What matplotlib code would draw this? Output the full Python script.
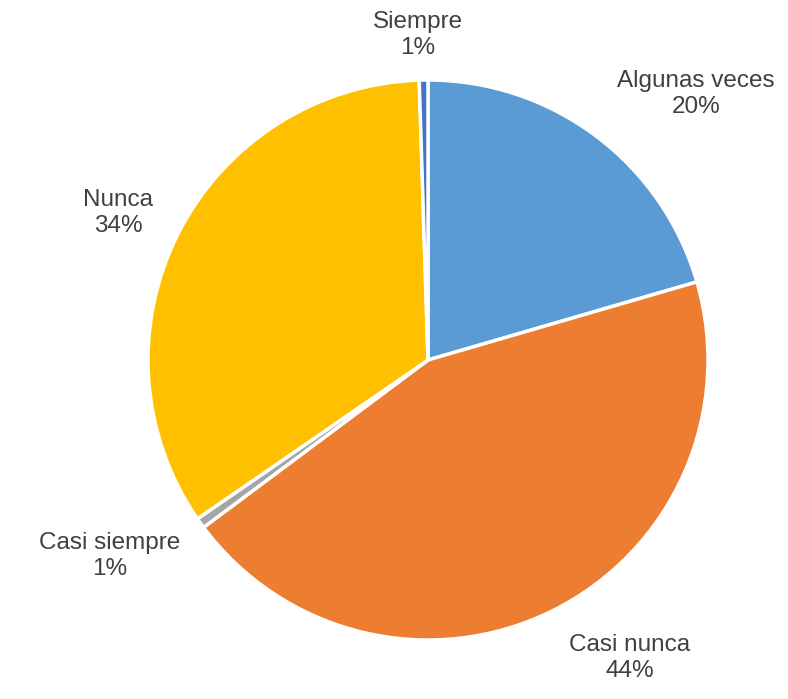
import matplotlib as mpl
import matplotlib.pyplot as plt

mpl.rcParams['font.family'] = 'Liberation Sans'

# datos
categorias = ['Algunas veces', 'Casi nunca', 'Casi siempre', 'Nunca', 'Siempre']
valores = [20.5, 44.3, 0.6, 34.1, 0.5]
etiquetas_pct = ['20%', '44%', '1%', '34%', '1%']
colores = ['#5B9BD5', '#ED7D31', '#A5A5A5', '#FFC000', '#4472C4']

# posiciones de las etiquetas (coordenadas del pie, radio = 1)
pos_etiquetas = [(0.957, 0.95), (0.721, -1.064), (-1.136, -0.70),
                 (-1.107, 0.525), (-0.036, 1.161)]

fig = plt.figure(figsize=(7.88, 6.99), dpi=100)
ax = fig.add_axes([(428 - 280) / 788, (699 - 360 - 280) / 699, 560 / 788, 560 / 699])

ax.pie(valores, colors=colores, startangle=90, counterclock=False, radius=1,
       wedgeprops=dict(edgecolor='white', linewidth=2.5))

for cat, pct, (x, y) in zip(categorias, etiquetas_pct, pos_etiquetas):
    ax.text(x, y, cat + '\n' + pct, ha='center', va='center', fontsize=17.5,
            color='#404040', linespacing=1.2)

ax.set_xlim(-1, 1)
ax.set_ylim(-1, 1)
ax.set_aspect('equal')
ax.axis('off')

fig.savefig('out.png', dpi=100)
